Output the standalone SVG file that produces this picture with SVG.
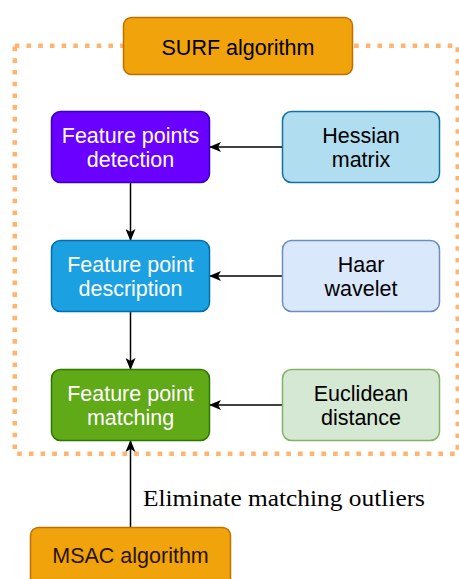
<svg xmlns="http://www.w3.org/2000/svg" width="459" height="579" viewBox="0 0 459 579">
<defs>
<style>
.box{stroke-width:1.5}
.t{font-family:"Liberation Sans",Arial,sans-serif;font-size:21.5px;text-anchor:middle}
.w{fill:#ffffff}
.k{fill:#000000}
.c{fill:none;stroke:#000000;stroke-width:1.5}
</style>
<marker id="ah" viewBox="0 0 12 10" refX="11" refY="5" markerWidth="12" markerHeight="10" markerUnits="userSpaceOnUse" orient="auto">
<path d="M0,0 L12,5 L0,10 L3,5 Z" fill="#000000"/>
</marker>
</defs>
<rect width="459" height="579" fill="#ffffff"/>
<rect id="surf-frame" x="14.8" y="45.7" width="443" height="408" fill="none" stroke="#FFB570" stroke-width="4.6" stroke-dasharray="4.6 7.1"/>
<g id="connectors">
<line class="c" x1="130.5" y1="183" x2="130.5" y2="240" marker-end="url(#ah)"/>
<line class="c" x1="130.5" y1="312" x2="130.5" y2="369" marker-end="url(#ah)"/>
<line class="c" x1="282" y1="147" x2="210" y2="147" marker-end="url(#ah)"/>
<line class="c" x1="282" y1="276" x2="210" y2="276" marker-end="url(#ah)"/>
<line class="c" x1="282" y1="405" x2="210" y2="405" marker-end="url(#ah)"/>
<line class="c" x1="130.5" y1="527" x2="130.5" y2="441" marker-end="url(#ah)"/>
<text x="143" y="506" font-family="'Liberation Serif','Times New Roman',serif" font-size="22.5" textLength="282" lengthAdjust="spacingAndGlyphs" fill="#000000">Eliminate matching outliers</text>
</g>
<g id="surf">
<rect class="box" x="123.5" y="17.5" width="229" height="57" rx="8" fill="#F0A30A" stroke="#BD7000"/>
<text class="t k" x="238" y="54.5" font-size="22.5">SURF algorithm</text>
</g>
<g id="detection">
<rect class="box" x="51.5" y="111.5" width="158" height="71" rx="9" fill="#6A00FF" stroke="#3700CC"/>
<text class="t w" x="130.5" y="143">Feature points</text>
<text class="t w" x="130.5" y="167">detection</text>
</g>
<g id="hessian">
<rect class="box" x="282.5" y="111.5" width="157" height="71" rx="9" fill="#B1DDF0" stroke="#10739E"/>
<text class="t k" x="361" y="143">Hessian</text>
<text class="t k" x="361" y="167">matrix</text>
</g>
<g id="description">
<rect class="box" x="51.5" y="240.5" width="158" height="71" rx="9" fill="#1BA1E2" stroke="#006EAF"/>
<text class="t w" x="130.5" y="272">Feature point</text>
<text class="t w" x="130.5" y="296">description</text>
</g>
<g id="haar">
<rect class="box" x="282.5" y="240.5" width="157" height="71" rx="9" fill="#DAE8FC" stroke="#6C8EBF"/>
<text class="t k" x="361" y="272">Haar</text>
<text class="t k" x="361" y="296">wavelet</text>
</g>
<g id="matching">
<rect class="box" x="51.5" y="369.5" width="158" height="71" rx="9" fill="#60A917" stroke="#2D7600"/>
<text class="t w" x="130.5" y="401">Feature point</text>
<text class="t w" x="130.5" y="425">matching</text>
</g>
<g id="euclidean">
<rect class="box" x="282.5" y="369.5" width="157" height="71" rx="9" fill="#D5E8D4" stroke="#82B366"/>
<text class="t k" x="361" y="401">Euclidean</text>
<text class="t k" x="361" y="425">distance</text>
</g>
<g id="msac">
<rect class="box" x="30.5" y="527.5" width="200" height="70" rx="8" fill="#F0A30A" stroke="#BD7000"/>
<text class="t" x="130.5" y="563" fill="#2a1200">MSAC algorithm</text>
</g>
</svg>
